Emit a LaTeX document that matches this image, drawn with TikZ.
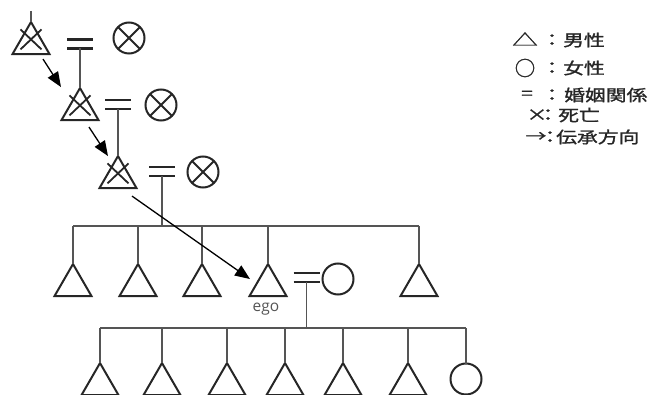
\documentclass[tikz,border=0pt]{standalone}
\usepackage{fontspec}
\usepackage{graphicx}
\newfontfamily\jpfont[FakeBold=1.2]{Noto Sans CJK JP}
\newfontfamily\egofont{Open Sans}
\usetikzlibrary{shapes.geometric,shapes.misc,arrows.meta}
\definecolor{ink}{HTML}{262626}
\definecolor{linkgray}{HTML}{555555}
\newcommand{\jp}[1]{\scalebox{1.3}[1]{\fontsize{16}{16}\jpfont #1}}

\begin{document}
\begin{tikzpicture}[x=1pt,y=-1pt,
  male/.style={regular polygon, regular polygon sides=3, draw=ink,
    line width=2pt, minimum size=42.7pt, inner sep=0pt, outer sep=0pt},
  female/.style={circle, draw=ink, line width=2pt, minimum size=31pt,
    inner sep=0pt, outer sep=0pt},
  deadmark/.style={cross out, draw=ink, line width=1.8pt, minimum width=21pt,
    minimum height=20pt, inner sep=0pt, outer sep=0pt},
  marriage/.style={minimum width=26pt, minimum height=9pt, inner sep=0pt,
    outer sep=0pt},
  eqline/.style={draw=ink, line width=2.4pt},
  link/.style={draw=linkgray, line width=1.3pt},
  heir/.style={draw=black, line width=1.3pt,
    -{Triangle[length=15pt,width=12pt]}},
  legend/.style={inner sep=0pt, text=ink},
]
\useasboundingbox (0,0) rectangle (650,395);

% --- first generation ---------------------------------------------------
\coordinate (lineage) at (31,11);
\node[male] (t1) at (31,43.4) {};
\node[deadmark] (x1) at ([yshift=4pt]t1.center) {};
\node[marriage] (m1) at (80,44) {};
\node[female] (w1) at (129,38) {};

% --- second generation --------------------------------------------------
\node[male] (t2) at (80,109.4) {};
\node[deadmark] (x2) at ([yshift=4pt]t2.center) {};
\node[marriage] (m2) at (118,104.5) {};
\node[female] (w2) at (161,105) {};

% --- third generation ---------------------------------------------------
\node[male] (t3) at (118,177.4) {};
\node[deadmark] (x3) at ([yshift=4pt]t3.center) {};
\node[marriage] (m3) at (162,171.5) {};
\node[female] (w3) at (203,172) {};

% --- fourth generation (ego and siblings) -------------------------------
\coordinate (bar4) at (0,226);
\node[male] (s1) at (73,285.4) {};
\node[male] (s2) at (138,285.4) {};
\node[male] (s3) at (202,285.4) {};
\node[male] (ego) at (268,285.4) {};
\node[male] (s5) at (419,285.4) {};
\node[marriage] (m4) at (306.5,277.5) {};
\node[female] (wife) at (338,279) {};
\node[text=linkgray, inner sep=0pt, font=\egofont\fontsize{15.5}{15.5}\selectfont]
  (egolabel) at (266,309) {ego};

% --- fifth generation ---------------------------------------------------
\coordinate (bar5) at (0,328);
\node[male] (c1) at (100,384.4) {};
\node[male] (c2) at (162,384.4) {};
\node[male] (c3) at (227,384.4) {};
\node[male] (c4) at (285,384.4) {};
\node[male] (c5) at (343,384.4) {};
\node[male] (c6) at (408,384.4) {};
\node[female] (c7) at (466,379) {};

% crosses over the deceased wives
\foreach \w in {w1,w2,w3}{
  \draw[ink, line width=1.8pt] (\w.north west) -- (\w.south east)
                               (\w.north east) -- (\w.south west);
}

% marriage signs
\foreach \m in {m1,m2,m3,m4}{
  \draw[eqline] (\m.north west) -- (\m.north east)
                (\m.south west) -- (\m.south east);
}

% descent lines
\draw[link] (lineage) -- (t1.north);
\draw[link] (m1.south) -- (t2.north);
\draw[link] (m2.south) -- (t3.north);
\draw[link] (m3.south) -- (m3 |- bar4);
\draw[link] (s1 |- bar4) -- (s5 |- bar4);
\foreach \s in {s1,s2,s3,ego,s5}{
  \draw[link] (\s |- bar4) -- (\s.north);
}
\draw[link] (m4.south) -- (m4 |- bar5);
\draw[link] (c1 |- bar5) -- (c7 |- bar5);
\foreach \c in {c1,c2,c3,c4,c5,c6,c7}{
  \draw[link] (\c |- bar5) -- (\c.north);
}

% line of succession
\draw[heir] ([xshift=12pt,yshift=-5pt]t1.south) -- ([xshift=-19pt,yshift=1pt]t2.north);
\draw[heir] ([xshift=9pt,yshift=-7pt]t2.south) -- ([xshift=-10pt]t3.north);
\draw[heir] ([xshift=14pt,yshift=-8pt]t3.south) -- ([xshift=-18pt,yshift=-15pt]ego.north);

% legend
\node[legend] (ksym1) at (525,39) {\scalebox{1.5}[0.95]{\fontsize{17}{17}\jpfont △}};
\node[legend] (kcol1) at (552,40) {\jp{：}};
\node[legend, anchor=west] (ktxt1) at (563,40) {\jp{男性}};
\node[legend] (ksym2) at (525,68) {\scalebox{1.2}[1.2]{\fontsize{17}{17}\jpfont ○}};
\node[legend] (kcol2) at (552,68) {\jp{：}};
\node[legend, anchor=west] (ktxt2) at (563,68) {\jp{女性}};
\node[legend] (ksym3) at (527,95) {\jp{=}};
\node[legend] (kcol3) at (552,95) {\jp{：}};
\node[legend, anchor=west] (ktxt3) at (564,95) {\jp{婚姻関係}};
\node[legend] (ksym4) at (537,115) {\jp{×}};
\node[legend] (kcol4) at (548,115) {\jp{：}};
\node[legend, anchor=west] (ktxt4) at (558,115) {\jp{死亡}};
\node[legend] (ksym5) at (536,137) {\jp{→}};
\node[legend] (kcol5) at (550,137) {\jp{：}};
\node[legend, anchor=west] (ktxt5) at (556,137) {\jp{伝承方向}};
\end{tikzpicture}
\end{document}
